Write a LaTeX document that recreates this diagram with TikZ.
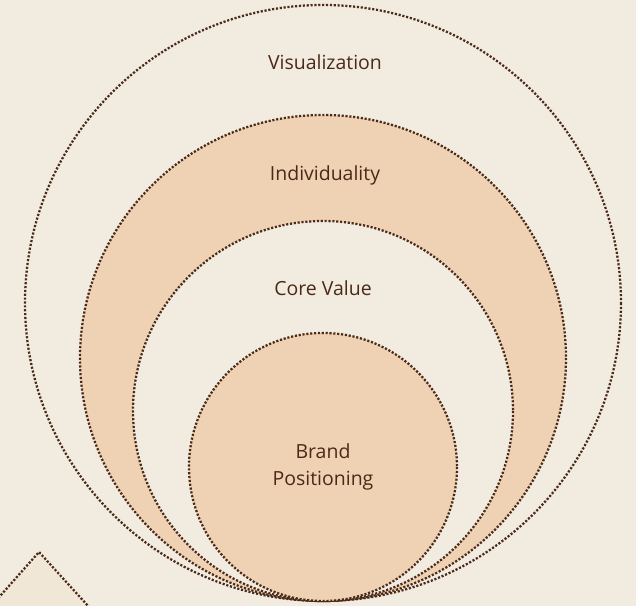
\documentclass[tikz,border=0pt]{standalone}
\usepackage{fontspec}
\setmainfont{Open Sans}
\definecolor{bg}{HTML}{F2ECE0}
\definecolor{peach}{HTML}{EFD2B3}
\definecolor{dotc}{HTML}{4B2A1A}
\definecolor{txt}{HTML}{4A2A17}
\definecolor{trifill}{HTML}{F0E7D6}
\tikzset{
  ring/.style={draw=dotc, line width=1.7pt, dash pattern=on 1.6pt off 1.3pt},
  lbl/.style={text=txt, font=\fontsize{14.6}{20}\selectfont, align=center, inner sep=0pt}
}
\begin{document}
\begin{tikzpicture}[x=0.75pt,y=-0.75pt]
\path[use as bounding box, fill=bg] (0,0) rectangle (636,606);
\begin{scope}
\clip (0,0) rectangle (636,606);
\coordinate (apex) at (39,552);
\coordinate (tl) at (-30,630);
\coordinate (tr) at (110,630);
\fill[trifill] (tl) -- (apex) -- (tr) -- cycle;
\draw[ring] (tl) -- (apex) -- (tr);
\draw[ring] (323,303) circle[radius=298];
\draw[ring, fill=peach] (323,358) circle[radius=243];
\draw[ring, fill=bg] (323,411) circle[radius=190];
\draw[ring, fill=peach] (323,467) circle[radius=134];
\end{scope}
\node[lbl] (vis) at (325,62) {Visualization};
\node[lbl] (ind) at (325,175) {Individuality};
\node[lbl] (core) at (323,288) {Core Value};
\node[lbl] (brand) at (323,467) {Brand\\Positioning};
\end{tikzpicture}
\end{document}
